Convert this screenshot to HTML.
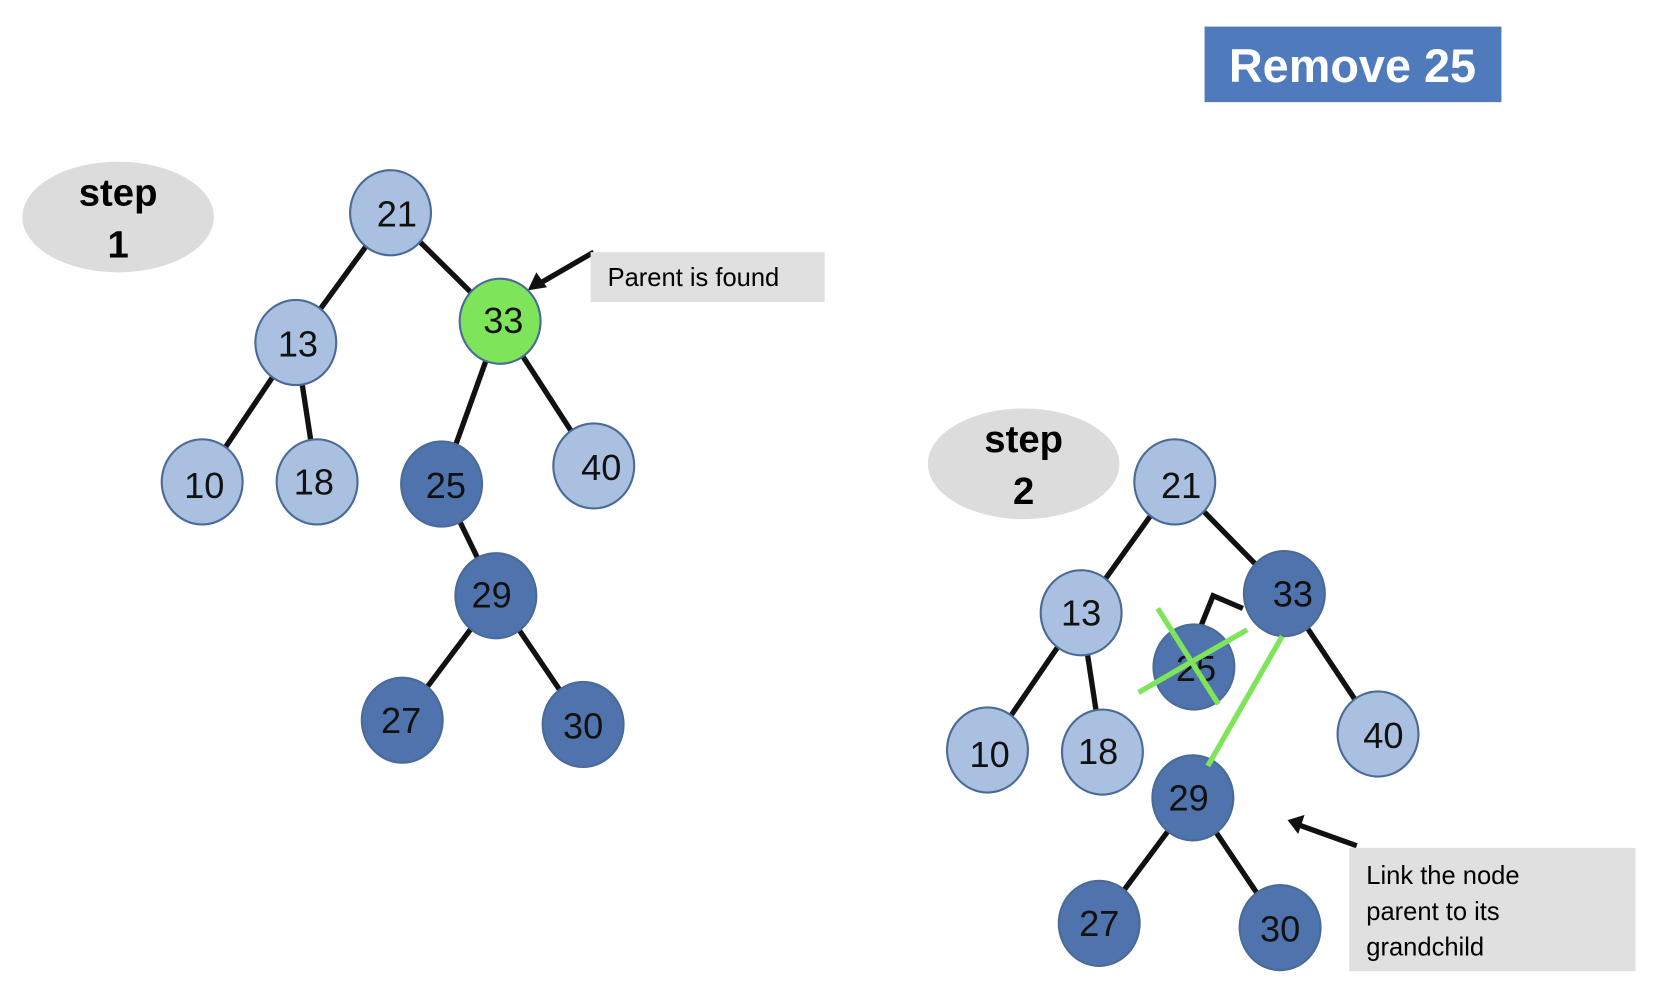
<!DOCTYPE html>
<html><head><meta charset="utf-8"><style>
html,body{margin:0;padding:0;background:#fff;}
svg{display:block}
text{font-family:"Liberation Sans",Arial,sans-serif}
</style></head><body>
<svg width="1660" height="984" viewBox="0 0 1560 925" preserveAspectRatio="none" xmlns="http://www.w3.org/2000/svg">
<rect x="1132" y="25" width="279" height="71" fill="#4f7bbd"/>
<text x="1271" y="77" font-size="44" font-weight="bold" fill="#fff" text-anchor="middle">Remove 25</text>

<g stroke="#111" stroke-width="5" fill="none">
<line x1="367" y1="200" x2="278" y2="322"/>
<line x1="367" y1="200" x2="470" y2="302"/>
<line x1="278" y1="322" x2="190" y2="453"/>
<line x1="278" y1="322" x2="298" y2="453"/>
<line x1="470" y1="302" x2="415" y2="455"/>
<line x1="470" y1="302" x2="558" y2="438"/>
<line x1="415" y1="455" x2="466" y2="560"/>
<line x1="466" y1="560" x2="378" y2="677"/>
<line x1="466" y1="560" x2="548" y2="681"/>
<line x1="1104" y1="453" x2="1016" y2="576"/>
<line x1="1104" y1="453" x2="1207" y2="558"/>
<line x1="1016" y1="576" x2="928" y2="705"/>
<line x1="1016" y1="576" x2="1036" y2="707"/>
<line x1="1207" y1="558" x2="1295" y2="690"/>
<line x1="1121" y1="750" x2="1033" y2="868"/>
<line x1="1121" y1="750" x2="1203" y2="872"/>
<polyline points="1168,572 1140,560 1128,590"/>
<line x1="558" y1="237" x2="508" y2="266"/>
<line x1="1275" y1="795" x2="1222" y2="776"/>
</g>
<polygon points="496,273 504,256 514,270" fill="#111"/>
<polygon points="1210,771 1226,766 1220,784" fill="#111"/>

<ellipse cx="111" cy="204" rx="90" ry="52" fill="#dcdcdc"/>
<text x="111" y="193" font-size="36" font-weight="bold" text-anchor="middle">step</text>
<text x="111" y="242" font-size="36" font-weight="bold" text-anchor="middle">1</text>
<ellipse cx="962" cy="436" rx="90" ry="52" fill="#dcdcdc"/>
<text x="962" y="425" font-size="36" font-weight="bold" text-anchor="middle">step</text>
<text x="962" y="474" font-size="36" font-weight="bold" text-anchor="middle">2</text>

<rect x="555" y="237" width="220" height="47" fill="#e0e0e0"/>
<text x="571" y="269" font-size="24">Parent is found</text>
<rect x="1268" y="797" width="269" height="116" fill="#e0e0e0"/>
<text x="1284" y="831" font-size="24">Link the node</text>
<text x="1284" y="865" font-size="24">parent to its</text>
<text x="1284" y="898" font-size="24">grandchild</text>

<g stroke="#4a6a98" stroke-width="2" font-size="34" text-anchor="middle">
<g fill="#a9c0e0">
<ellipse cx="367" cy="200" rx="38" ry="40"/><ellipse cx="278" cy="322" rx="38" ry="40"/>
<ellipse cx="190" cy="453" rx="38" ry="40"/><ellipse cx="298" cy="453" rx="38" ry="40"/>
<ellipse cx="558" cy="438" rx="38" ry="40"/>
<ellipse cx="1104" cy="453" rx="38" ry="40"/><ellipse cx="1016" cy="576" rx="38" ry="40"/>
<ellipse cx="928" cy="705" rx="38" ry="40"/><ellipse cx="1036" cy="707" rx="38" ry="40"/>
<ellipse cx="1295" cy="690" rx="38" ry="40"/>
</g>
<ellipse cx="470" cy="302" rx="38" ry="40" fill="#7ee55a"/>
<g fill="#4f74ad">
<ellipse cx="415" cy="455" rx="38" ry="40"/><ellipse cx="466" cy="560" rx="38" ry="40"/>
<ellipse cx="378" cy="677" rx="38" ry="40"/><ellipse cx="548" cy="681" rx="38" ry="40"/>
<ellipse cx="1207" cy="558" rx="38" ry="40"/><ellipse cx="1122" cy="627" rx="38" ry="40"/>
<ellipse cx="1121" cy="750" rx="38" ry="40"/><ellipse cx="1033" cy="868" rx="38" ry="40"/>
<ellipse cx="1203" cy="872" rx="38" ry="40"/>
</g>
<g stroke="none" fill="#111">
<text x="373" y="213">21</text><text x="280" y="335">13</text><text x="473" y="313">33</text>
<text x="192" y="468">10</text><text x="295" y="465">18</text><text x="419" y="468">25</text>
<text x="565" y="451">40</text><text x="462" y="571">29</text><text x="377" y="689">27</text>
<text x="548" y="694">30</text>
<text x="1110" y="468">21</text><text x="1016" y="588">13</text><text x="1215" y="570">33</text>
<text x="1124" y="640">25</text><text x="930" y="721">10</text><text x="1032" y="718">18</text>
<text x="1300" y="703">40</text><text x="1117" y="762">29</text><text x="1033" y="880">27</text>
<text x="1203" y="885">30</text>
</g>
</g>
<g stroke="#7ee55a" stroke-width="5">
<line x1="1088" y1="572" x2="1145" y2="662"/>
<line x1="1070" y1="651" x2="1172" y2="592"/>
<line x1="1205" y1="598" x2="1135" y2="720"/>
</g>
</svg>
</body></html>
